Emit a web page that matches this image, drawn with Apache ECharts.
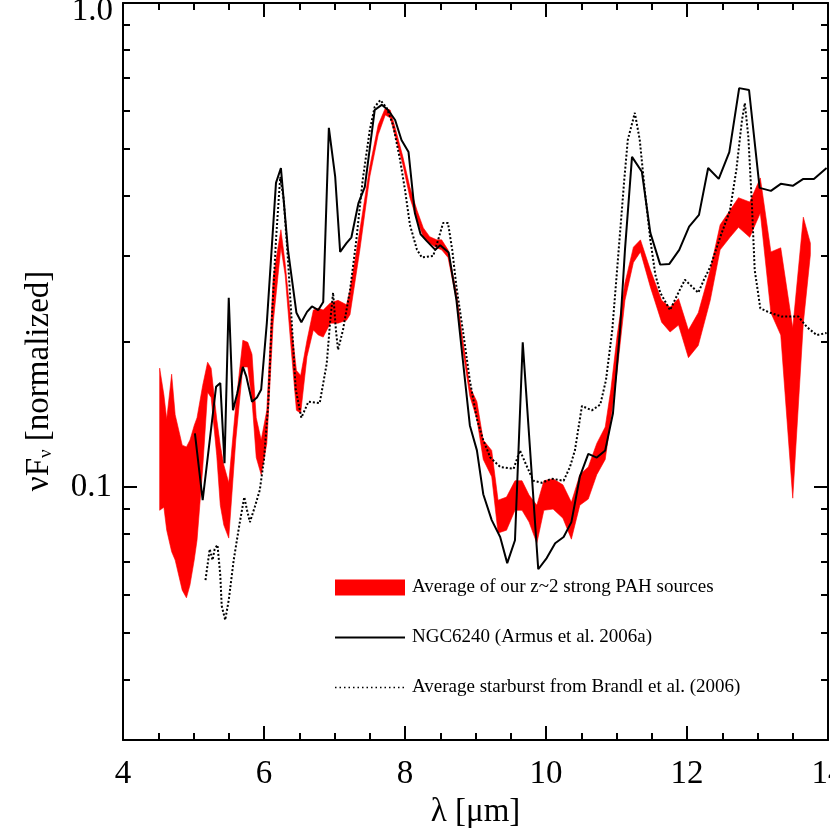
<!DOCTYPE html>
<html><head><meta charset="utf-8">
<script src="https://cdn.jsdelivr.net/npm/echarts@6/dist/echarts.min.js"></script>
<style>html,body{margin:0;padding:0;background:#fff}#c{width:830px;height:830px}</style>
</head><body><div id="c"></div>
<script>
// ---- tick values / labels ----
const xTicks = [4, 6, 8, 10, 12, 14];
const yMajorTicks = [0.1, 1.0];
const yMinorTicks = [0.04, 0.05, 0.06, 0.07, 0.08, 0.09, 0.2, 0.3, 0.4, 0.5, 0.6, 0.7, 0.8, 0.9];

// ---- series names ----
const nameBand = 'Average of our z~2 strong PAH sources';
const nameNGC = 'NGC6240 (Armus et al. 2006a)';
const nameSB = 'Average starburst from Brandl et al. (2006)';

// ---- red band: average of z~2 sources (upper / lower bounds) ----
const bandWave = [4.52,4.58,4.62,4.69,4.74,4.84,4.90,4.95,5.01,5.05,
  5.13,5.20,5.25,5.33,5.38,5.43,5.50,5.60,5.70,5.77,
  5.83,5.89,5.96,6.04,6.13,6.24,6.30,6.38,6.46,6.52,
  6.61,6.70,6.77,6.84,6.94,7.05,7.17,7.22,7.36,7.50,
  7.62,7.72,7.79,7.87,7.97,8.07,8.17,8.26,8.35,8.45,
  8.52,8.61,8.73,8.82,8.92,9.02,9.11,9.23,9.32,9.44,
  9.56,9.66,9.76,9.87,9.97,10.10,10.24,10.36,10.48,10.60,
  10.72,10.84,10.92,11.01,11.12,11.24,11.34,11.48,11.64,11.76,
  11.88,12.02,12.16,12.33,12.47,12.61,12.73,12.89,13.04,13.19,
  13.33,13.50,13.65,13.75];
const bandUpper = [0.176,0.155,0.138,0.171,0.141,0.122,0.121,0.125,0.134,0.139,
  0.162,0.181,0.176,0.138,0.122,0.111,0.102,0.148,0.201,0.199,
  0.188,0.139,0.125,0.144,0.271,0.340,0.290,0.221,0.174,0.170,
  0.201,0.232,0.234,0.232,0.240,0.243,0.238,0.255,0.340,0.459,
  0.560,0.606,0.601,0.546,0.481,0.416,0.373,0.343,0.329,0.324,
  0.324,0.309,0.252,0.201,0.161,0.150,0.125,0.119,0.0939,0.0953,
  0.103,0.103,0.0962,0.0917,0.103,0.104,0.101,0.0930,0.106,0.110,
  0.123,0.133,0.159,0.206,0.264,0.313,0.324,0.281,0.243,0.235,
  0.245,0.211,0.229,0.281,0.348,0.373,0.396,0.388,0.435,0.306,
  0.312,0.213,0.361,0.319];
const bandLower = [0.0895,0.0908,0.0814,0.0735,0.0706,0.0612,0.0590,0.0627,0.0706,0.0776,
  0.109,0.157,0.153,0.116,0.0917,0.0834,0.0784,0.125,0.177,0.177,
  0.151,0.115,0.106,0.123,0.218,0.313,0.274,0.197,0.144,0.142,
  0.186,0.211,0.206,0.204,0.218,0.218,0.221,0.227,0.309,0.437,
  0.534,0.587,0.579,0.526,0.463,0.396,0.356,0.329,0.319,0.312,
  0.309,0.298,0.243,0.192,0.154,0.138,0.114,0.105,0.0803,0.0814,
  0.0895,0.0895,0.0846,0.0765,0.0895,0.0900,0.0862,0.0780,0.0917,0.0944,
  0.106,0.114,0.138,0.174,0.243,0.291,0.306,0.259,0.219,0.209,
  0.216,0.185,0.196,0.243,0.309,0.328,0.344,0.328,0.368,0.229,
  0.206,0.0948,0.218,0.302];

// ---- NGC6240 (solid black) ----
const ngcWave = [5.02,5.13,5.32,5.38,5.44,5.50,5.56,5.62,5.70,5.75,
  5.83,5.90,5.96,6.04,6.17,6.24,6.34,6.46,6.53,6.61,
  6.68,6.77,6.84,6.92,7.01,7.08,7.17,7.24,7.34,7.43,
  7.57,7.67,7.76,7.86,7.95,8.05,8.14,8.22,8.31,8.43,
  8.50,8.62,8.73,8.82,8.92,9.02,9.11,9.23,9.35,9.45,
  9.56,9.67,9.89,10.01,10.13,10.25,10.36,10.48,10.60,10.72,
  10.84,10.95,11.05,11.12,11.22,11.36,11.48,11.62,11.75,11.89,
  12.03,12.17,12.30,12.45,12.60,12.74,12.88,13.03,13.19,13.33,
  13.50,13.65,13.80,13.98];
const ngcFlux = [0.129,0.0939,0.161,0.164,0.112,0.246,0.144,0.156,0.177,0.169,
  0.150,0.153,0.159,0.218,0.425,0.456,0.309,0.229,0.219,0.230,
  0.236,0.232,0.241,0.552,0.437,0.306,0.319,0.328,0.386,0.417,
  0.601,0.616,0.601,0.573,0.521,0.492,0.368,0.333,0.322,0.309,
  0.316,0.305,0.243,0.183,0.134,0.119,0.0966,0.0854,0.0788,0.0696,
  0.0776,0.199,0.0676,0.0713,0.0765,0.0788,0.0846,0.105,0.117,0.115,
  0.119,0.142,0.211,0.309,0.481,0.448,0.335,0.288,0.289,0.309,
  0.345,0.365,0.456,0.433,0.492,0.667,0.661,0.415,0.409,0.423,
  0.419,0.433,0.433,0.456];

// ---- Brandl et al. average starburst (dotted) ----
const sbWave = [5.17,5.23,5.27,5.30,5.34,5.38,5.40,5.45,5.50,5.57,
  5.65,5.72,5.76,5.80,5.87,5.94,6.00,6.06,6.11,6.17,
  6.23,6.28,6.34,6.40,6.45,6.53,6.63,6.79,6.89,6.94,
  6.98,7.02,7.05,7.12,7.22,7.31,7.40,7.50,7.57,7.65,
  7.74,7.83,7.93,8.00,8.07,8.17,8.24,8.40,8.47,8.54,
  8.61,8.67,8.73,8.82,8.92,9.02,9.11,9.21,9.35,9.54,
  9.63,9.72,9.82,9.94,10.08,10.25,10.34,10.41,10.51,10.65,
  10.77,10.85,10.94,11.02,11.11,11.16,11.26,11.33,11.40,11.48,
  11.55,11.62,11.76,11.86,11.97,12.16,12.24,12.33,12.47,12.61,
  12.70,12.78,12.82,12.87,12.92,12.96,13.04,13.18,13.34,13.48,
  13.58,13.70,13.84,13.98];
const sbFlux = [0.0642,0.0744,0.0706,0.0744,0.0759,0.0657,0.0568,0.0531,0.0584,0.0706,
  0.0834,0.0953,0.0895,0.0846,0.0910,0.0985,0.114,0.148,0.221,0.324,
  0.437,0.392,0.295,0.211,0.159,0.139,0.150,0.149,0.180,0.221,
  0.252,0.211,0.192,0.211,0.255,0.324,0.431,0.546,0.610,0.630,
  0.607,0.560,0.474,0.411,0.348,0.309,0.298,0.300,0.324,0.351,
  0.351,0.309,0.259,0.211,0.166,0.138,0.125,0.115,0.110,0.109,
  0.119,0.111,0.103,0.102,0.104,0.103,0.110,0.119,0.147,0.144,
  0.148,0.166,0.211,0.295,0.431,0.521,0.593,0.521,0.411,0.324,
  0.275,0.252,0.232,0.249,0.268,0.252,0.268,0.285,0.328,0.373,
  0.452,0.573,0.621,0.529,0.386,0.281,0.234,0.229,0.225,0.225,
  0.225,0.214,0.206,0.208];

const FONT = "'Liberation Serif', 'DejaVu Serif', serif";
const chart = echarts.init(document.getElementById('c'), null, {renderer: 'canvas'});

const gridBox = {left: 123, right: 2, top: 3, bottom: 90, outerBoundsMode: 'none'};
const lineAxis = {show: true, lineStyle: {color: '#000', width: 2}};
const noLine = {show: false};
const yBase = {type: 'log', logBase: 10, min: 0.03, max: 1.0, splitLine: {show: false}};
const xBase = {type: 'value', min: 4, max: 14, interval: 2, splitLine: {show: false}};

function pairs(xs, ys) { return xs.map((x, i) => [x, ys[i]]); }

const option = {
  animation: false,
  backgroundColor: '#fff',
  grid: [0, 1, 2, 3, 4].map(() => Object.assign({}, gridBox)),
  xAxis: [
    Object.assign({}, xBase, {
      gridIndex: 0, position: 'bottom', axisLine: lineAxis,
      axisTick: {show: true, inside: true, length: 14, lineStyle: {color: '#000', width: 2}},
      minorTick: {show: true, splitNumber: 4, length: 7, lineStyle: {color: '#000', width: 2}},
      axisLabel: {show: true, color: '#000', fontFamily: FONT, fontSize: 33, margin: 18,
        formatter: v => String(xTicks[xTicks.indexOf(Math.round(v))]),
        alignMinLabel: 'center', alignMaxLabel: 'center'},
      name: 'λ [μm]', nameLocation: 'middle', nameGap: 56,
      nameTextStyle: {color: '#000', fontFamily: FONT, fontSize: 33}
    }),
    Object.assign({}, xBase, {
      gridIndex: 1, position: 'top', axisLine: lineAxis,
      axisTick: {show: true, inside: true, length: 14, lineStyle: {color: '#000', width: 2}},
      minorTick: {show: true, splitNumber: 4, length: 7, lineStyle: {color: '#000', width: 2}},
      axisLabel: {show: false}
    }),
    Object.assign({}, xBase, {gridIndex: 2, show: false}),
    Object.assign({}, xBase, {gridIndex: 3, show: false}),
    Object.assign({}, xBase, {gridIndex: 4, show: false})
  ],
  yAxis: [
    Object.assign({}, yBase, {
      gridIndex: 0, position: 'left', axisLine: lineAxis,
      axisTick: {show: true, inside: true, length: 14, customValues: yMajorTicks, lineStyle: {color: '#000', width: 2}},
      axisLabel: {show: true, customValues: [yMajorTicks[0]], formatter: v => Number(v).toFixed(1),
        color: '#000', fontFamily: FONT, fontSize: 33, margin: 11}
    }),
    Object.assign({}, yBase, {
      gridIndex: 1, position: 'right', axisLine: lineAxis,
      axisTick: {show: true, inside: true, length: 14, customValues: yMajorTicks, lineStyle: {color: '#000', width: 2}},
      axisLabel: {show: false}
    }),
    Object.assign({}, yBase, {
      gridIndex: 2, position: 'left', axisLine: noLine,
      axisTick: {show: true, inside: true, length: 7, customValues: yMinorTicks, lineStyle: {color: '#000', width: 2}},
      axisLabel: {show: false}
    }),
    Object.assign({}, yBase, {
      gridIndex: 3, position: 'right', axisLine: noLine,
      axisTick: {show: true, inside: true, length: 7, customValues: yMinorTicks, lineStyle: {color: '#000', width: 2}},
      axisLabel: {show: false}
    }),
    Object.assign({}, yBase, {
      gridIndex: 4, position: 'left', axisLine: noLine, axisTick: {show: false},
      axisLabel: {show: true, customValues: [yMajorTicks[1]],
        formatter: v => '{t|' + Number(v).toFixed(1) + '}',
        verticalAlign: 'middle', margin: 10,
        rich: {t: {color: '#000', fontFamily: FONT, fontSize: 33, lineHeight: 33, padding: [17, 0, 0, 0]}}}
    })
  ],
  legend: {
    orient: 'vertical', left: 334, top: 578, padding: 0,
    itemWidth: 70, itemHeight: 16, itemGap: 31,
    selectedMode: false,
    textStyle: {color: '#000', fontFamily: FONT, fontSize: 19, lineHeight: 16, padding: [0, 0, 0, 2]},
    data: [
      {name: nameBand, icon: 'rect'},
      {name: nameNGC, itemStyle: {opacity: 0}},
      {name: nameSB, itemStyle: {opacity: 0}, lineStyle: {width: 1.5, type: [1.5, 3]}}
    ]
  },
  graphic: [{
    type: 'text', x: 39, y: 381, rotation: Math.PI / 2,
    style: {
      text: '{a|νF}{b|ν}{a| [normalized]}',
      align: 'center', verticalAlign: 'middle',
      fill: '#000',
      rich: {
        a: {fontFamily: FONT, fontSize: 33, lineHeight: 40, fill: '#000'},
        b: {fontFamily: FONT, fontSize: 19, lineHeight: 19, verticalAlign: 'bottom', padding: [0, 0, 3, 0], fill: '#000'}
      }
    }
  }],
  series: [
    {
      name: nameBand, type: 'custom', xAxisIndex: 0, yAxisIndex: 0, z: 1,
      itemStyle: {color: '#ff0000'},
      data: [[bandWave[0], bandUpper[0]]],
      renderItem: function (params, api) {
        const pts = [];
        for (let i = 0; i < bandWave.length; i++) pts.push(api.coord([bandWave[i], bandUpper[i]]));
        for (let i = bandWave.length - 1; i >= 0; i--) pts.push(api.coord([bandWave[i], bandLower[i]]));
        return {type: 'polygon', shape: {points: pts}, style: {fill: '#ff0000', stroke: '#ff0000', lineWidth: 0.6}};
      }
    },
    {
      name: nameNGC, type: 'line', xAxisIndex: 0, yAxisIndex: 0, z: 3,
      symbol: 'none', data: pairs(ngcWave, ngcFlux),
      lineStyle: {color: '#000', width: 2}, itemStyle: {color: '#000'}
    },
    {
      name: nameSB, type: 'line', xAxisIndex: 0, yAxisIndex: 0, z: 2,
      symbol: 'none', data: pairs(sbWave, sbFlux),
      lineStyle: {color: '#000', width: 2, type: [2, 2]}, itemStyle: {color: '#000'}
    }
  ]
};
chart.setOption(option);
</script></body></html>
